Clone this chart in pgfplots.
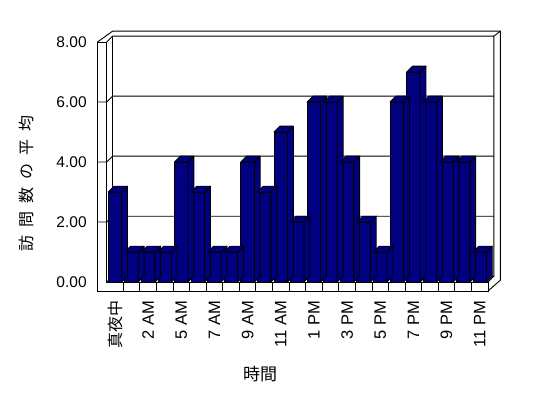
\documentclass[border=0pt]{standalone}
\usepackage{fontspec}
\setmainfont{Liberation Sans}
\newfontfamily\jp{Noto Sans CJK JP}
\usepackage{pgfplots}
\usepackage{pgfplotstable}
\pgfplotsset{compat=1.18}
\definecolor{barblue}{RGB}{0,0,128}
\pgfdeclareplotmark{nothing}{}
\pgfplotstableread{
x y
0 3
1 1
2 1
3 1
4 4
5 3
6 1
7 1
8 4
9 3
10 5
11 2
12 6
13 6
14 4
15 2
16 1
17 6
18 7
19 6
20 4
21 4
22 1
}\visits
\begin{document}
\begin{tikzpicture}
\def\xL{97.5}\def\xA{106.7}\def\xR{488}\def\yF{282}\def\yFB{291}\def\yT{42}
\def\dep{5.8}\def\thk{5}\def\thkx{6.5}
\begin{scope}[x=1pt,y=-1pt,line width=0.9pt,line join=miter]
% side wall front face + floor front face
\draw (\xL,\yT) -- (\xL,\yFB) -- (\xR,\yFB) -- (\xR,\yF) -- (\xA,\yF) -- (\xA,\yT) -- cycle;
% cell dividers on floor
\foreach \k in {1,...,22} {\draw ({\xA+16.578*\k},\yF) -- ({\xA+16.578*\k},\yFB);}
% grid levels
\foreach \v in {2,4,6} {%
  \pgfmathsetmacro\yy{\yF-\v*30}
  \draw (\xL,\yy) -- (\xA,\yy) -- ({\xA+\dep},{\yy-\dep}) -- ({\xR+\dep},{\yy-\dep});
}
% floor back edge
\draw (\xA,\yF) -- ({\xA+\dep},{\yF-\dep}) -- ({\xR+\dep},{\yF-\dep}) -- (\xR,\yF);
% back-left inner vertical
\draw ({\xA+\dep},{\yT-\dep}) -- ({\xA+\dep},{\yF-\dep});
% outer top / right of walls
\draw (\xL,\yT) -- ({\xA+\dep},{\yT-\dep-\thk}) -- ({\xR+\dep+\thkx},{\yT-\dep-\thk}) -- ({\xR+\dep+\thkx},{\yFB-\dep-\thk}) -- (\xR,\yFB);
% inner top / right of back wall
\draw (\xA,\yT) -- ({\xA+\dep},{\yT-\dep}) -- ({\xR+\dep},{\yT-\dep}) -- ({\xR+\dep},{\yF-\dep});
\draw ({\xR+\dep},{\yT-\dep}) -- ({\xR+\dep+\thkx},{\yT-\dep-\thk});
\end{scope}
\begin{axis}[
  at={(106.7pt,-282pt)}, anchor=south west,
  x=16.578pt, y=30pt,
  xmin=-0.5, xmax=22.5, ymin=0, ymax=8,
  axis x line*=bottom, axis y line*=left,
  axis line style={draw=none},
  tick style={draw=none},
  xtick={0,2,...,22},
  xticklabels={{\jp\fontsize{16}{16}\selectfont 真夜中},2 AM,5 AM,7 AM,9 AM,11 AM,1 PM,3 PM,5 PM,7 PM,9 PM,11 PM},
  x tick label style={rotate=90, anchor=east, font=\fontsize{16.5}{17}\selectfont},
  xticklabel shift=15pt,
  ytick={0,2,4,6,8},
  yticklabel style={font=\fontsize{15.5}{16}\selectfont,
    /pgf/number format/.cd, fixed, fixed zerofill, precision=2, assume math mode=true},
  yticklabel shift=16.5pt,
  clip=false,
]
\addplot[scatter, only marks, mark=nothing,
  visualization depends on={rawy \as \rawy},
  scatter/@pre marker code/.code={%
    \pgfmathsetlengthmacro\yb{(5.8-\rawy*30)*1pt}%
    \pgfmathsetlengthmacro\yf{(-\rawy*30)*1pt}%
    \path[fill=barblue, draw=black, line width=0.9pt, line join=round]
      (6.75pt,0pt) -- (12.55pt,5.8pt) -- (12.55pt,\yb) -- (6.75pt,\yf) -- cycle;
    \path[fill=barblue, draw=black, line width=0.9pt, line join=round]
      (-6.75pt,0pt) -- (6.75pt,0pt) -- (12.55pt,5.8pt) -- (-0.95pt,5.8pt) -- cycle;
  },
  scatter/@post marker code/.code={},
] table[x=x,y=y] {\visits};
\addplot[ybar, bar width=13.5pt, fill=barblue, draw=black, line width=0.9pt]
  table[x=x,y=y] {\visits};
\end{axis}
\begin{scope}[x=1pt,y=-1pt]
\node[font=\jp\fontsize{17}{17}\selectfont] at (260,374) {時間};
\node[rotate=90, font=\jp\fontsize{16}{16}\selectfont] at (26,183.5)
  {訪\kern8pt 問\kern8pt 数\kern8pt の\kern8pt 平\kern8pt 均};
\end{scope}
\pgfresetboundingbox
\path (0pt,0pt) rectangle (548pt,-398pt);
\end{tikzpicture}
\end{document}
